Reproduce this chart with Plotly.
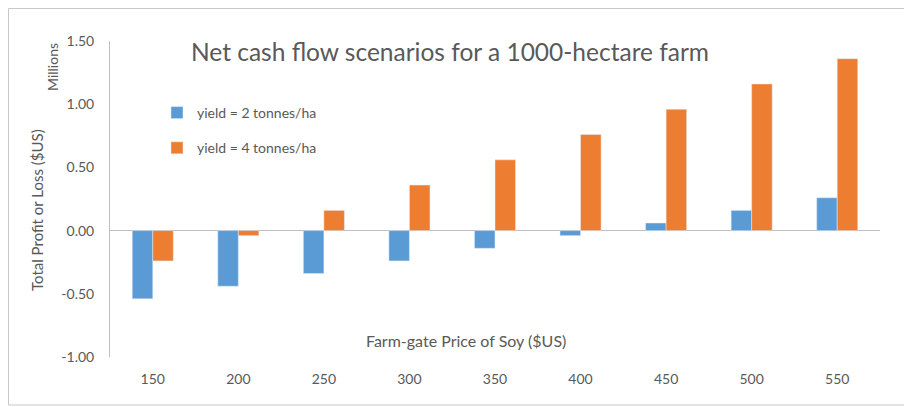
import plotly.graph_objects as go

prices = ['150', '200', '250', '300', '350', '400', '450', '500', '550']
yield_2 = [-0.54, -0.44, -0.34, -0.24, -0.14, -0.04, 0.06, 0.16, 0.26]
yield_4 = [-0.24, -0.04, 0.16, 0.36, 0.56, 0.76, 0.96, 1.16, 1.36]
y_ticks = [-1.0, -0.5, 0.0, 0.5, 1.0, 1.5]
y_tick_text = ['-1.00', '-0.50', '0.00', '0.50', '1.00', '1.50']

FONT = 'Lato'
GREY = '#595959'

# the page body adds an 8px margin, so the figure is drawn 8px in and down
OFF = 8
W, H = 912 - OFF, 407 - OFF
# plot area in window pixels: x 110..880, y 41..357
L, R, T, B = 110 - OFF, 32, 41 - OFF, 50
pw, ph = W - L - R, H - T - B

def px_x(x):
    return (x - OFF - L) / pw

def px_y(y):
    return (H - B - (y - OFF)) / ph

fig = go.Figure()
fig.add_trace(go.Bar(x=prices, y=yield_2, name='yield = 2 tonnes/ha',
                     marker_color='#5B9BD5', legendgroup='a'))
fig.add_trace(go.Bar(x=prices, y=yield_4, name='yield = 4 tonnes/ha',
                     marker_color='#ED7D31', legendgroup='b'))

fig.update_layout(
    width=W, height=H,
    margin=dict(l=L, r=R, t=T, b=B),
    paper_bgcolor='white', plot_bgcolor='white',
    font=dict(family=FONT, size=14, color=GREY),
    barmode='group', bargap=0.52, bargroupgap=0,
    title=dict(text='Net cash flow scenarios for a 1000-hectare farm',
               font=dict(size=24.5, color=GREY, family=FONT),
               xref='paper', yref='paper', x=px_x(450), y=px_y(52),
               xanchor='center', yanchor='middle'),
    legend=dict(x=px_x(157), y=px_y(97), xanchor='left', yanchor='top',
                tracegroupgap=14, bgcolor='rgba(0,0,0,0)',
                font=dict(size=14, color=GREY)),
    xaxis=dict(type='category', showline=False, showgrid=False, ticks='',
               ticklabelstandoff=12, tickfont=dict(size=14, color=GREY)),
    yaxis=dict(range=[-1.0, 1.5], tickvals=y_ticks, ticktext=y_tick_text,
               showgrid=False, showline=True, linecolor='#bfbfbf', linewidth=1,
               zeroline=True, zerolinecolor='#bfbfbf', zerolinewidth=1,
               ticks='', ticklabelstandoff=12, tickfont=dict(size=14, color=GREY)),
)

fig.add_annotation(text='Millions', x=px_x(52), y=px_y(67), xref='paper', yref='paper',
                   xanchor='center', yanchor='middle',
                   textangle=-90, showarrow=False, font=dict(size=14, color=GREY))
fig.add_annotation(text='Total Profit or Loss ($US)', x=px_x(37), y=px_y(210),
                   xref='paper', yref='paper', xanchor='center', yanchor='middle',
                   textangle=-90, showarrow=False, font=dict(size=15, color=GREY))
fig.add_annotation(text='Farm-gate Price of Soy ($US)', x=px_x(466), y=px_y(340),
                   xref='paper', yref='paper', xanchor='center', yanchor='middle',
                   showarrow=False, font=dict(size=16, color=GREY))

fig.add_shape(type='rect', xref='paper', yref='paper',
              x0=px_x(OFF + 0.5), x1=px_x(909), y0=px_y(405), y1=px_y(OFF + 0.5),
              line=dict(color='#c8c8c8', width=1), layer='below')

fig.write_html("out.html")
